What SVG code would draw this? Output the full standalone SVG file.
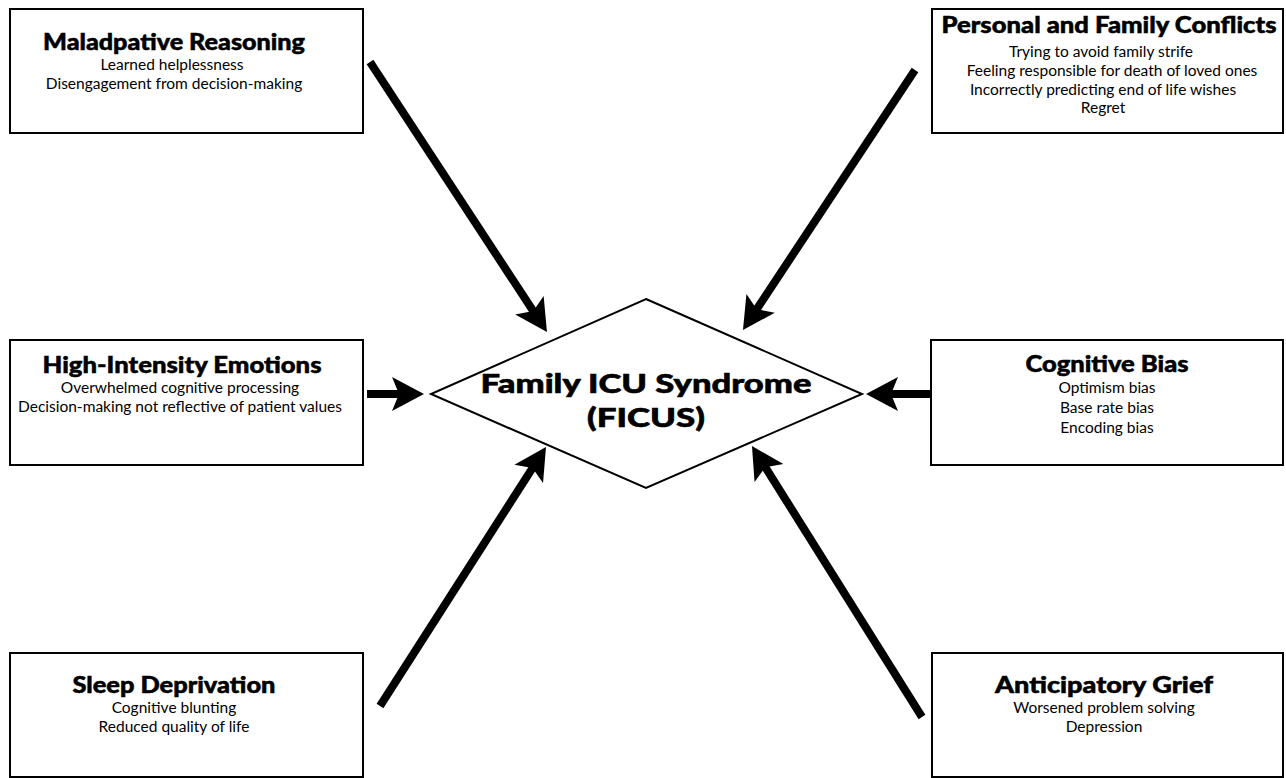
<svg xmlns="http://www.w3.org/2000/svg" width="1286" height="778" viewBox="0 0 1286 778">
<style>
.box{fill:#fff;stroke:#000;stroke-width:2}
.t{font-family:Lato,"Open Sans","DejaVu Sans",sans-serif;font-weight:900;font-size:22px;text-anchor:middle;fill:#000;stroke:#000;stroke-width:0.5}
.b{font-family:Lato,"Open Sans","DejaVu Sans",sans-serif;font-size:15.5px;text-anchor:middle;fill:#000}
.c{font-family:Lato,"Open Sans","DejaVu Sans",sans-serif;font-weight:900;font-size:27px;text-anchor:middle;fill:#000;stroke:#000;stroke-width:0.6}
.arr{stroke:#000;stroke-width:8;fill:none;marker-end:url(#ah)}
</style>
<defs>
<marker id="ah" markerUnits="userSpaceOnUse" viewBox="-15 -20 40 40" refX="0" refY="0" markerWidth="40" markerHeight="40" orient="auto">
<path d="M20,0 L-12,-17 L-5,0 L-12,17 Z" fill="#000"/>
</marker>
</defs>
<rect width="1286" height="778" fill="#fff"/>
<g id="center">
<polygon points="646,299 862,394 646,488 431,394" fill="#fff" stroke="#000" stroke-width="2"/>
<text class="c" x="646" y="393" textLength="331" lengthAdjust="spacingAndGlyphs">Family ICU Syndrome</text>
<text class="c" x="646" y="427" textLength="118" lengthAdjust="spacingAndGlyphs">(FICUS)</text>
</g>
<g id="maladaptive">
<rect class="box" x="10" y="9" width="353" height="124"/>
<text class="t" x="174" y="50" textLength="262" lengthAdjust="spacingAndGlyphs">Maladpative Reasoning</text>
<text class="b" x="172" y="70">Learned helplessness</text>
<text class="b" x="174" y="89">Disengagement from decision-making</text>
</g>
<g id="conflicts">
<rect class="box" x="932" y="9" width="351" height="124"/>
<text class="t" x="1109" y="33" textLength="335" lengthAdjust="spacingAndGlyphs">Personal and Family Conflicts</text>
<text class="b" x="1101" y="57">Trying to avoid family strife</text>
<text class="b" x="1112" y="76">Feeling responsible for death of loved ones</text>
<text class="b" x="1103" y="95">Incorrectly predicting end of life wishes</text>
<text class="b" x="1103" y="113">Regret</text>
</g>
<g id="emotions">
<rect class="box" x="10" y="340" width="353" height="125"/>
<text class="t" x="182" y="373" textLength="279" lengthAdjust="spacingAndGlyphs">High-Intensity Emotions</text>
<text class="b" x="180" y="393">Overwhelmed cognitive processing</text>
<text class="b" x="180" y="412">Decision-making not reflective of patient values</text>
</g>
<g id="bias">
<rect class="box" x="931" y="340" width="352" height="125"/>
<text class="t" x="1107" y="372" textLength="163" lengthAdjust="spacingAndGlyphs">Cognitive Bias</text>
<text class="b" x="1107" y="393">Optimism bias</text>
<text class="b" x="1107" y="413">Base rate bias</text>
<text class="b" x="1107" y="433">Encoding bias</text>
</g>
<g id="sleep">
<rect class="box" x="10" y="653" width="353" height="124"/>
<text class="t" x="174" y="693" textLength="203" lengthAdjust="spacingAndGlyphs">Sleep Deprivation</text>
<text class="b" x="174" y="713">Cognitive blunting</text>
<text class="b" x="174" y="732">Reduced quality of life</text>
</g>
<g id="grief">
<rect class="box" x="932" y="653" width="351" height="124"/>
<text class="t" x="1104" y="693" textLength="218" lengthAdjust="spacingAndGlyphs">Anticipatory Grief</text>
<text class="b" x="1104" y="713">Worsened problem solving</text>
<text class="b" x="1104" y="732">Depression</text>
</g>
<g id="connectors">
<line class="arr" x1="370" y1="62" x2="536" y2="315.3"/>
<line class="arr" x1="915" y1="70" x2="754" y2="313.3"/>
<line class="arr" x1="367" y1="394" x2="404" y2="394"/>
<line class="arr" x1="931" y1="394" x2="886" y2="394"/>
<line class="arr" x1="380" y1="706" x2="535.2" y2="463.8"/>
<line class="arr" x1="922" y1="717" x2="762.6" y2="462.9"/>
</g>
</svg>
